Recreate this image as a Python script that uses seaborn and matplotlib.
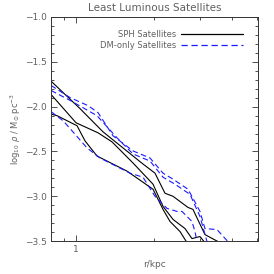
import matplotlib
matplotlib.use("Agg")
import matplotlib.pyplot as plt
from matplotlib.lines import Line2D
from matplotlib.ticker import FixedLocator, NullFormatter, MultipleLocator
import seaborn as sns
import pandas as pd

# density profiles: r in kpc, log10 rho in Msun/pc^3
sph1_r = [0.801, 1.036, 1.271, 1.814, 2.018, 2.206, 2.369, 2.706, 2.829, 3.147, 3.597, 3.9]
sph1_rho = [-1.716, -2.022, -2.281, -2.640, -2.742, -2.966, -3.0, -3.124, -3.146, -3.427, -3.517, -3.58]

sph2_r = [0.801, 1.0, 1.216, 1.377, 1.660, 1.983, 2.167, 2.369, 2.636, 2.804, 3.011, 3.147, 3.3]
sph2_rho = [-1.865, -2.180, -2.292, -2.393, -2.629, -2.865, -3.112, -3.258, -3.360, -3.472, -3.449, -3.517, -3.6]

sph3_r = [0.801, 0.845, 1.009, 1.083, 1.205, 1.573, 1.983, 2.167, 2.307, 2.521, 2.683, 2.9]
sph3_rho = [-2.084, -2.101, -2.213, -2.382, -2.551, -2.719, -2.921, -3.146, -3.281, -3.393, -3.517, -3.62]

dm1_r = [0.801, 0.948, 1.113, 1.216, 1.390, 1.660, 1.931, 2.167, 2.369, 2.706, 2.829, 3.011, 3.147, 3.503, 3.863, 4.1]
dm1_rho = [-1.764, -1.899, -1.989, -2.067, -2.326, -2.494, -2.573, -2.742, -2.809, -2.921, -3.022, -3.169, -3.360, -3.371, -3.506, -3.58]

dm2_r = [0.801, 0.948, 1.205, 1.440, 1.660, 1.931, 2.167, 2.411, 2.755, 3.011, 3.206, 3.35]
dm2_rho = [-1.820, -1.930, -2.101, -2.348, -2.528, -2.607, -2.787, -2.865, -2.978, -3.225, -3.506, -3.6]

dm3_r = [0.801, 0.891, 0.965, 1.103, 1.238, 1.616, 1.814, 2.018, 2.246, 2.455, 2.566, 2.804, 2.880, 2.933, 3.0]
dm3_rho = [-2.056, -2.157, -2.270, -2.461, -2.573, -2.742, -2.787, -3.0, -3.135, -3.169, -3.169, -3.281, -3.393, -3.506, -3.58]

labels = ["SPH Satellites", "DM-only Satellites"]

rows = []
for name, r, rho, sim in [
    ("sph1", sph1_r, sph1_rho, labels[0]),
    ("sph2", sph2_r, sph2_rho, labels[0]),
    ("sph3", sph3_r, sph3_rho, labels[0]),
    ("dm1", dm1_r, dm1_rho, labels[1]),
    ("dm2", dm2_r, dm2_rho, labels[1]),
    ("dm3", dm3_r, dm3_rho, labels[1]),
]:
    for x, y in zip(r, rho):
        rows.append({"r": x, "rho": y, "sim": sim, "halo": name})
df = pd.DataFrame(rows)

sns.set_theme(style="ticks")
plt.rcParams["font.family"] = ["DejaVu Sans"]
txt = "#606060"

fig = plt.figure(figsize=(2.74, 2.74), dpi=100)
ax = fig.add_axes([0.186, 0.120, 0.756, 0.818])

colors = {labels[0]: "black", labels[1]: "#1a1aff"}
dashes = {labels[0]: "", labels[1]: (5, 3)}
sns.lineplot(data=df, x="r", y="rho", hue="sim", style="sim", units="halo",
             estimator=None, sort=False, palette=colors, dashes=dashes,
             linewidth=0.8, legend=False, ax=ax)

ax.set_xscale("log")
ax.set_xlim(0.8, 5.05)
ax.set_ylim(-3.5, -1.0)

ax.xaxis.set_major_locator(FixedLocator([1]))
ax.xaxis.set_major_formatter(plt.FuncFormatter(lambda v, p: "%g" % v))
ax.xaxis.set_minor_locator(FixedLocator([0.9, 2, 3, 4, 5]))
ax.xaxis.set_minor_formatter(NullFormatter())
ax.yaxis.set_major_locator(MultipleLocator(0.5))
ax.yaxis.set_minor_locator(MultipleLocator(0.1))
ax.yaxis.set_major_formatter(plt.FuncFormatter(lambda v, p: ("%.1f" % v).replace("-", "\u2212")))

ax.tick_params(which="both", direction="in", top=True, right=True,
               color="#333333", width=0.6, labelsize=6.5, labelcolor=txt, pad=3)
ax.tick_params(which="major", length=4.5)
ax.tick_params(which="minor", length=2.2)
for s in ax.spines.values():
    s.set_linewidth(0.7)
    s.set_color("#333333")

ax.set_xlabel("r/kpc", fontsize=6.5, color=txt, labelpad=4)
ax.set_ylabel(r"log$_{10}$ $\rho$ / M$_{\odot}$ pc$^{-3}$", fontsize=6, color=txt)
ax.yaxis.set_label_coords(-0.135, 0.5)
ax.set_title("Least Luminous Satellites", fontsize=7.5, color=txt, pad=4)

handles = [Line2D([], [], color="black", lw=0.9),
           Line2D([], [], color="#1a1aff", lw=0.9, dashes=(5, 3))]
leg = ax.legend(handles, labels, loc="upper right", frameon=False, fontsize=6,
                markerfirst=False, handlelength=7.5, handletextpad=0.6,
                labelspacing=0.2, borderaxespad=0.0, bbox_to_anchor=(0.945, 0.955))
for t in leg.get_texts():
    t.set_color(txt)

fig.savefig("out.png", dpi=100)
